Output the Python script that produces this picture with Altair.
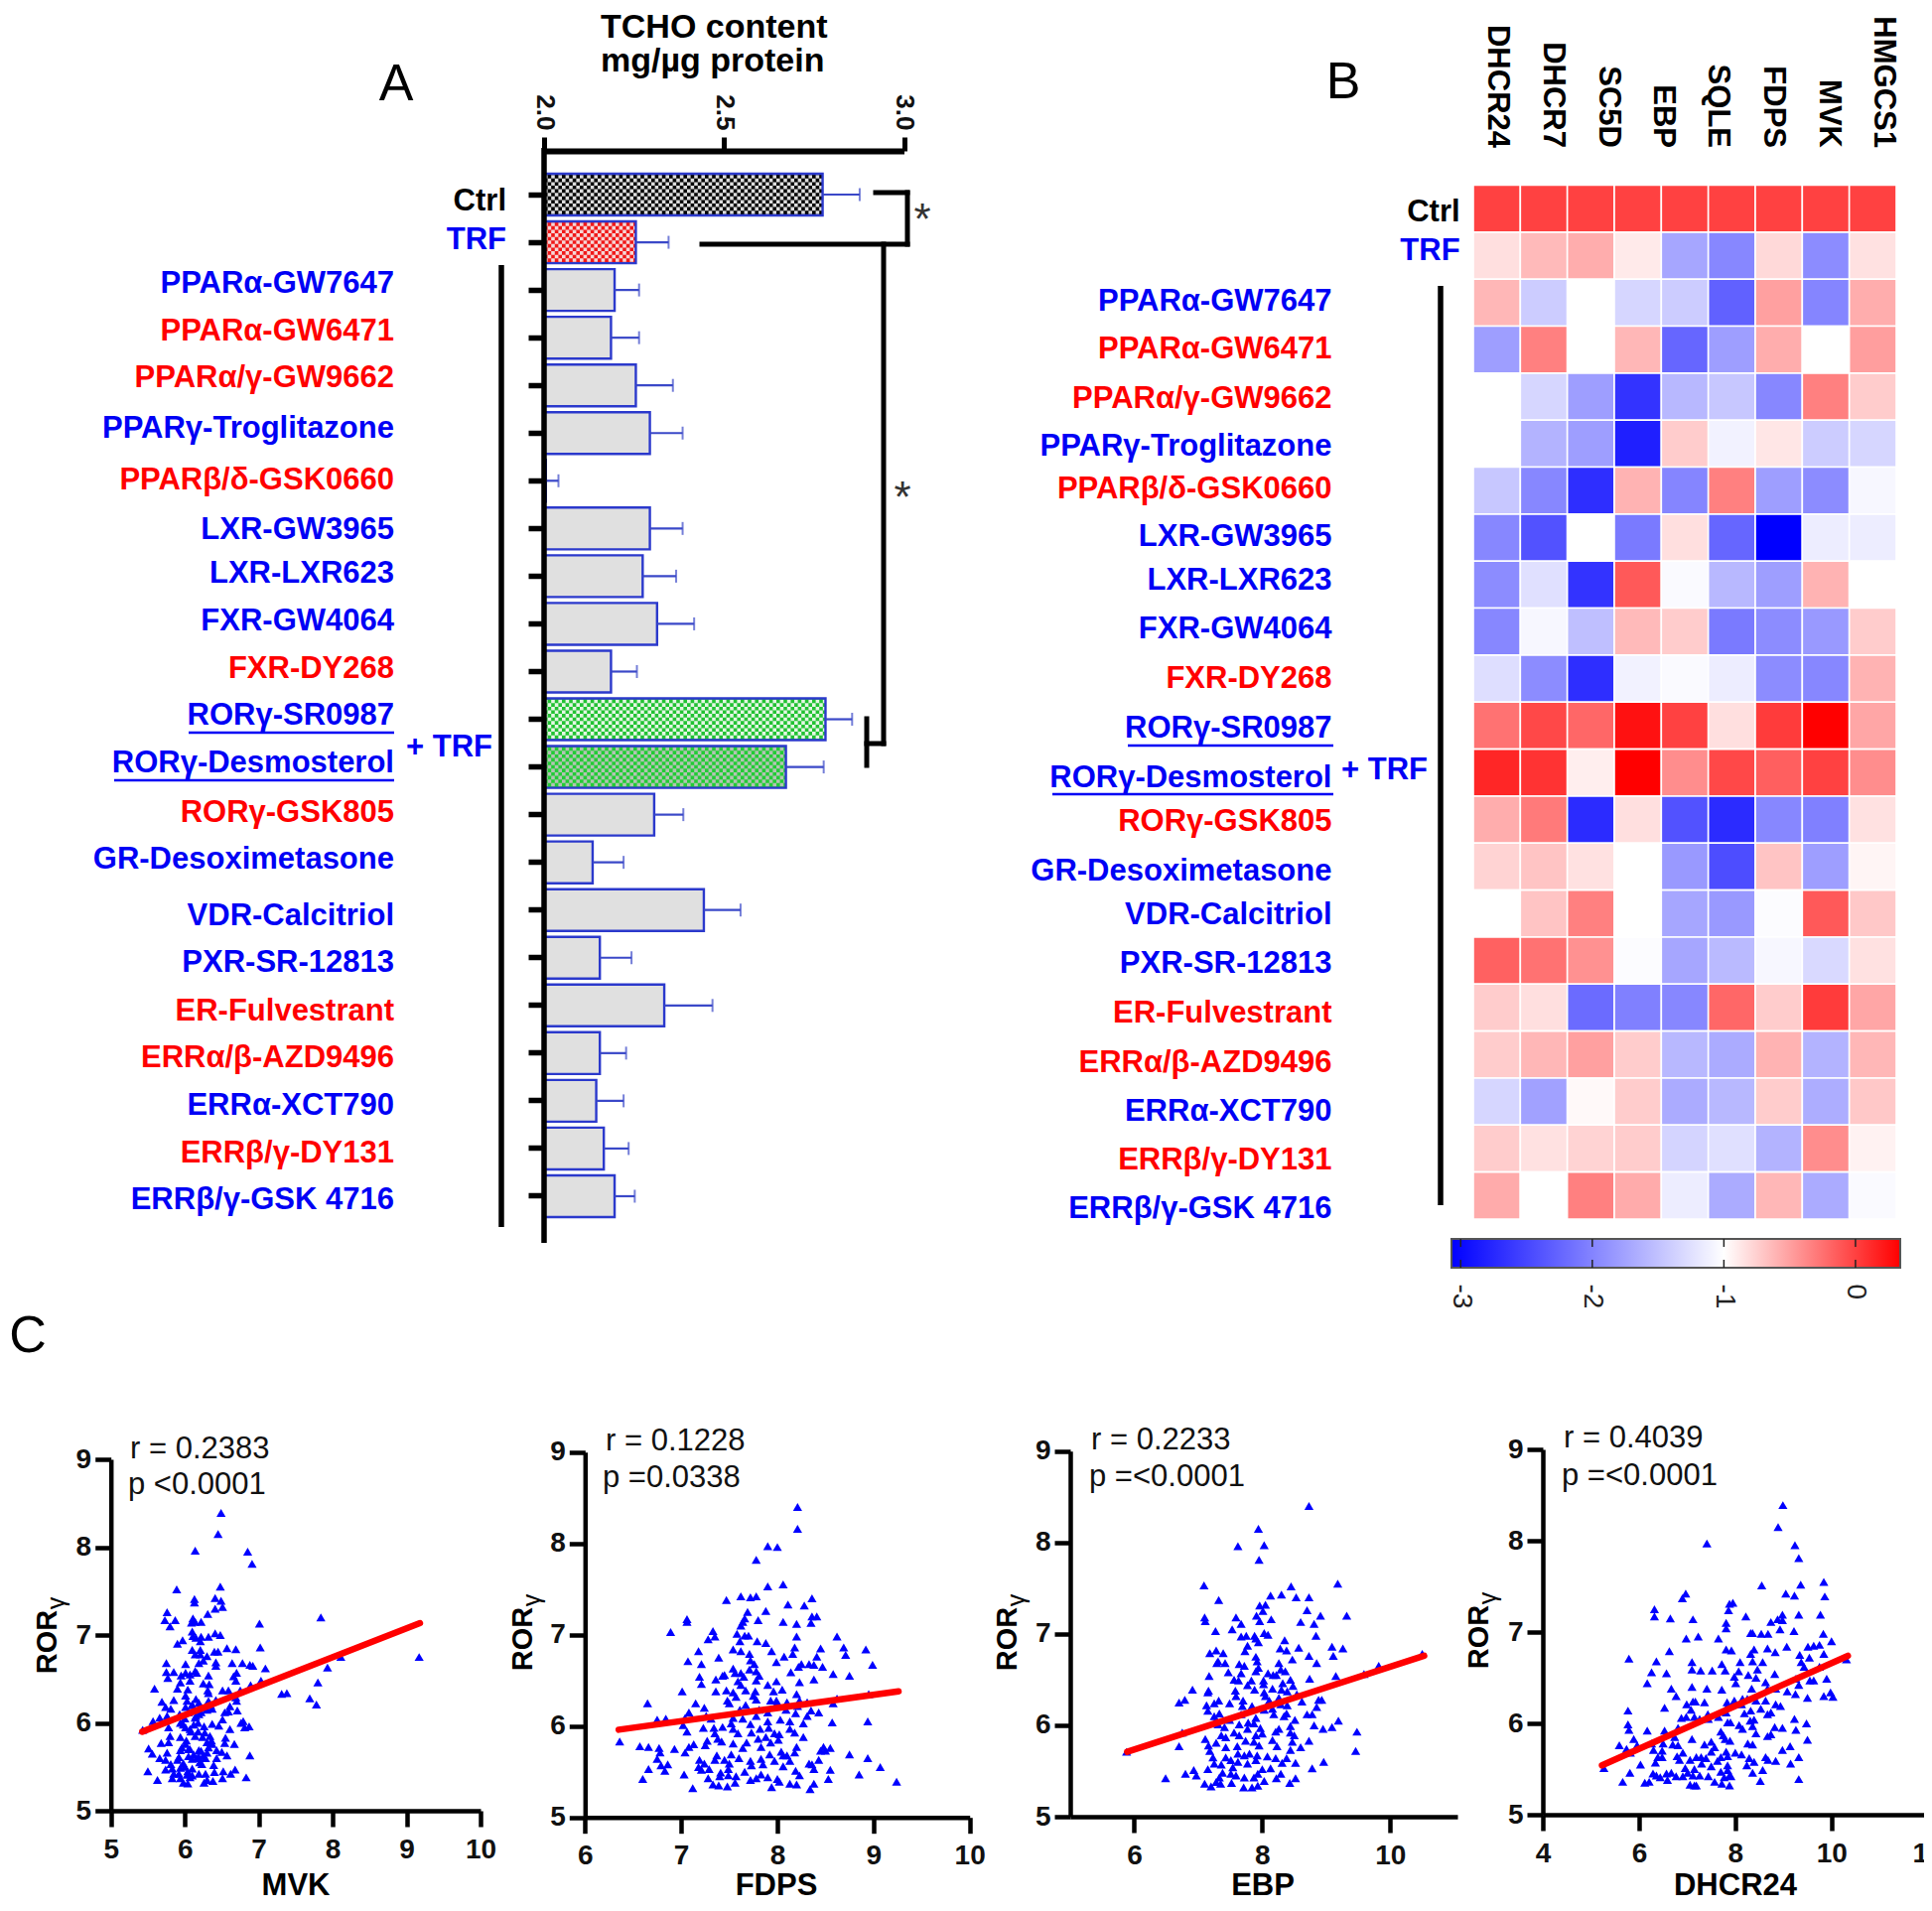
import altair as alt
import pandas as pd

W, H = 1930, 1909
FONT = "Liberation Sans"
BLUE, RED = "#0000F5", "#FF0000"

# ---------- Panel A / B row names ----------
rows = ["Ctrl", "TRF", "PPARα-GW7647", "PPARα-GW6471", "PPARα/γ-GW9662", "PPARγ-Troglitazone", "PPARβ/δ-GSK0660",
        "LXR-GW3965", "LXR-LXR623", "FXR-GW4064", "FXR-DY268", "RORγ-SR0987", "RORγ-Desmosterol", "RORγ-GSK805",
        "GR-Desoximetasone", "VDR-Calcitriol", "PXR-SR-12813", "ER-Fulvestrant", "ERRα/β-AZD9496", "ERRα-XCT790",
        "ERRβ/γ-DY131", "ERRβ/γ-GSK 4716"]
row_colors = ["#000000", BLUE, BLUE, RED, RED, BLUE, RED, BLUE, BLUE, BLUE, RED, BLUE, BLUE, RED, BLUE, BLUE, BLUE,
              RED, RED, BLUE, RED, BLUE]
tcho = [2.774, 2.255, 2.196, 2.186, 2.255, 2.294, 2.005, 2.294, 2.274, 2.314, 2.186, 2.782, 2.672, 2.306, 2.135,
        2.444, 2.155, 2.334, 2.155, 2.145, 2.166, 2.196]
tcho_hi = [2.877, 2.346, 2.264, 2.264, 2.358, 2.385, 2.04, 2.385, 2.367, 2.417, 2.258, 2.856, 2.777, 2.387, 2.221,
           2.546, 2.243, 2.468, 2.228, 2.221, 2.235, 2.252]
bar_base = {"Ctrl": "#000000", "TRF": "#F01818", "RORγ-SR0987": "#22C233", "RORγ-Desmosterol": "#22CC35"}
bar_light = {"Ctrl": "#DDDDDD", "TRF": "#F6D6D6", "RORγ-SR0987": "#E4F6E4", "RORγ-Desmosterol": "#B4C2B4"}
label_y_a = [203, 242, 286, 334, 381, 432, 484, 534, 578, 626, 674, 721, 769, 818.5, 866, 923, 970, 1018.5, 1066,
             1114, 1162, 1209]
label_y_b = [214, 253, 304, 352, 402, 450, 493, 541, 585, 634, 684, 734, 784, 827.6, 877.6, 922, 970.5, 1020.5,
             1070.5, 1119.6, 1169, 1218]

genes = ["DHCR24", "DHCR7", "SC5D", "EBP", "SQLE", "FDPS", "MVK", "HMGCS1"]
gene_x = [1508, 1564, 1620, 1674.5, 1730, 1786, 1842, 1896.5]
heat = [
    [0, 0, 0, 0, 0, 0, 0, 0, 0],
    [-0.83, -0.64, -0.57, -0.89, -1.7, -1.94, -0.8, -1.9, -0.84],
    [-0.62, -1.4, -1, -1.32, -1.4, -2.24, -0.5, -1.96, -0.57],
    [-1.76, -0.33, -1, -0.62, -2.2, -1.76, -0.57, -1, -0.49],
    [-1, -1.32, -1.76, -2.6, -1.56, -1.44, -1.94, -0.33, -0.73],
    [-1, -1.6, -1.76, -2.76, -0.73, -1.1, -0.87, -1.4, -1.32],
    [-1.44, -1.94, -2.64, -0.6, -1.96, -0.33, -1.76, -1.9, -1.06],
    [-1.94, -2.36, -1, -2.04, -0.83, -2.2, -3, -1.14, -1.14],
    [-1.9, -1.24, -2.6, -0.13, -1.04, -1.56, -1.76, -0.6, -1],
    [-1.94, -1.06, -1.5, -0.64, -0.73, -2.04, -1.9, -1.8, -0.73],
    [-1.26, -1.9, -2.64, -1.1, -1.04, -1.14, -1.9, -1.94, -0.6],
    [-0.26, -0.04, -0.2, 0.25, 0, -0.83, 0.03, 0.34, -0.53],
    [0.14, 0.07, -0.91, 0.34, -0.4, -0.04, -0.16, 0, -0.4],
    [-0.57, -0.3, -2.66, -0.83, -2.36, -2.66, -1.94, -2, -0.84],
    [-0.77, -0.69, -0.84, -1, -1.8, -2.4, -0.69, -1.76, -0.95],
    [-1, -0.69, -0.33, -1, -1.7, -1.8, -1.02, -0.13, -0.71],
    [-0.17, -0.26, -0.42, -1.02, -1.7, -1.54, -1.06, -1.3, -0.84],
    [-0.73, -0.83, -2.16, -2, -1.94, -0.2, -0.73, 0.03, -0.53],
    [-0.73, -0.62, -0.5, -0.73, -1.56, -1.66, -0.6, -1.6, -0.62],
    [-1.32, -1.74, -0.97, -0.73, -1.66, -1.56, -0.73, -1.64, -0.71],
    [-0.73, -0.84, -0.77, -0.73, -1.34, -1.24, -1.6, -0.4, -0.93],
    [-0.56, -1, -0.33, -0.56, -1.14, -1.66, -0.62, -1.66, -1.04],
]

# ---------- Panel C scatter readings (gene, RORγ) ----------
mvk_pts = [(6.49,8.39),(6.45,8.15),(6.14,7.96),(6.85,7.95),(6.91,7.81),(5.89,7.52),(6.48,7.55),(6.13,7.41),(6.13,7.37),(6.41,7.42),(6.49,7.39),(6.41,7.30),(6.51,7.32),(5.76,7.26),(5.73,7.17),(5.87,7.17),(5.80,7.10),(6.31,7.24),(6.11,7.19),(6.09,7.14),(6.14,7.15),(6.22,7.15),(7.01,7.13),(7.84,7.20),(6.10,7.04),(6.41,7.02),(6.48,7.0),(6.11,6.99),(6.15,6.97),(6.22,6.98),(6.32,6.98),(5.97,6.94),(5.90,6.90),(6.21,6.93),(7.02,6.86),(6.57,6.85),(6.69,6.84),(6.10,6.83),(6.40,6.81),(6.45,6.81),(6.21,6.83),(6.14,6.78),(6.21,6.78),(6.30,6.76),(6.25,6.71),(6.19,6.68),(6.42,6.69),(6.42,6.65),(5.75,6.68),(6.01,6.67),(6.64,6.68),(6.78,6.68),(6.88,6.66),(6.92,6.65),(7.09,6.62),(8.11,6.75),(9.17,6.75),(7.93,6.63),(7.80,6.46),(7.03,6.48),(6.89,6.43),(5.75,6.58),(5.85,6.58),(6.14,6.59),(6.16,6.57),(5.95,6.54),(6.01,6.57),(6.07,6.55),(6.32,6.54),(6.70,6.57),(6.66,6.53),(6.69,6.48),(5.77,6.51),(6.07,6.48),(5.94,6.46),(6.25,6.45),(6.33,6.44),(5.90,6.39),(6.04,6.38),(5.59,6.39),(6.31,6.37),(6.32,6.34),(6.51,6.37),(6.59,6.37),(6.75,6.37),(7.31,6.33),(7.38,6.34),(7.69,6.28),(7.78,6.21),(5.69,6.24),(5.85,6.26),(5.74,6.18),(5.81,6.16),(6.01,6.31),(6.03,6.25),(6.15,6.27),(6.19,6.23),(6.32,6.25),(6.42,6.26),(6.69,6.29),(6.70,6.25),(6.71,6.14),(6.61,6.19),(6.01,6.18),(6.10,6.21),(6.23,6.17),(6.37,6.16),(6.05,6.12),(6.19,6.10),(6.54,6.12),(6.59,6.13),(5.66,6.06),(5.76,6.08),(5.93,6.10),(5.57,6.02),(6.14,6.06),(6.51,6.04),(6.76,6.0),(6.79,6.02),(6.81,5.95),(6.87,5.96),(6.46,5.97),(6.61,5.93),(5.43,5.92),(5.94,6.0),(6.01,5.95),(5.78,5.95),(6.07,5.93),(6.26,5.96),(6.37,5.99),(5.80,5.85),(6.14,5.85),(5.94,5.84),(6.27,5.89),(6.34,5.85),(6.55,5.83),(5.68,5.77),(5.78,5.78),(6.01,5.76),(6.30,5.78),(6.37,5.76),(6.54,5.77),(6.67,5.76),(5.51,5.71),(5.56,5.65),(5.76,5.66),(5.94,5.69),(6.07,5.70),(6.19,5.69),(6.43,5.69),(6.50,5.67),(6.88,5.63),(6.57,5.63),(5.66,5.60),(5.74,5.58),(5.92,5.61),(6.10,5.59),(6.19,5.61),(6.25,5.63),(6.43,5.60),(5.81,5.53),(5.98,5.54),(6.23,5.53),(6.39,5.52),(5.83,5.48),(5.74,5.47),(5.50,5.45),(5.94,5.49),(6.10,5.48),(6.68,5.47),(6.52,5.45),(6.40,5.44),(6.62,5.42),(6.19,5.42),(6.28,5.42),(6.03,5.41),(6.83,5.38),(5.63,5.35),(5.83,5.37),(5.94,5.37),(6.07,5.38),(6.51,5.37),(6.38,5.34),(5.98,5.32),(6.04,5.31),(6.26,5.32),(6.30,5.35),(6.05,5.62),(6.12,5.64),(6.16,5.6),(6.22,5.68),(6.28,5.6),(6.3,5.66),(6.02,5.8),(6.08,5.9),(5.98,5.98),(6.0,6.05),(6.12,5.98),(6.18,5.9),(6.24,5.84),(5.96,5.72),(5.9,5.58),(6.0,5.5),(5.92,5.42),(6.04,5.45),(6.1,5.4),(6.18,6.0),(6.15,6.08),(6.22,6.12),(6.3,6.15),(6.35,6.2),(6.1,6.2),(6.05,5.7),(6.32,5.72),(6.36,5.8),(6.2,5.55),(5.85,5.42)]
fdps_pts = [(8.21,8.40),(8.21,8.16),(7.90,7.97),(8.0,7.96),(7.78,7.82),(7.90,7.53),(8.06,7.55),(7.47,7.38),(7.62,7.42),(7.72,7.41),(7.78,7.42),(8.36,7.40),(8.11,7.33),(8.28,7.32),(7.69,7.25),(7.88,7.26),(7.06,7.17),(7.06,7.14),(7.66,7.18),(7.64,7.14),(7.80,7.16),(8.06,7.14),(8.36,7.20),(8.41,7.20),(8.35,7.13),(8.20,7.12),(7.62,7.10),(6.89,7.03),(7.33,7.04),(7.35,6.98),(7.28,6.95),(7.58,7.01),(7.66,6.99),(7.70,6.99),(8.20,6.98),(8.62,6.98),(7.61,6.93),(7.79,6.93),(7.88,6.91),(8.18,6.86),(8.45,6.85),(8.69,6.86),(8.92,6.84),(7.54,6.84),(7.18,6.82),(7.62,6.82),(7.94,6.82),(8.16,6.79),(7.71,6.79),(8.71,6.78),(7.39,6.75),(8.07,6.76),(8.41,6.76),(7.72,6.72),(7.07,6.71),(7.99,6.70),(7.21,6.68),(7.76,6.68),(8.22,6.65),(8.25,6.68),(8.33,6.68),(8.38,6.67),(8.47,6.65),(8.99,6.67),(7.54,6.63),(7.71,6.62),(7.78,6.60),(8.14,6.59),(7.56,6.58),(7.62,6.58),(8.58,6.57),(8.75,6.55),(7.43,6.55),(7.45,6.56),(7.19,6.54),(7.65,6.54),(7.81,6.55),(7.36,6.51),(7.59,6.49),(7.78,6.50),(8.38,6.51),(7.99,6.49),(7.21,6.46),(7.62,6.45),(7.90,6.45),(8.23,6.48),(7.36,6.38),(7.01,6.38),(7.47,6.39),(7.54,6.37),(7.67,6.39),(7.77,6.38),(8.05,6.40),(7.96,6.38),(8.95,6.35),(7.57,6.32),(7.75,6.33),(8.20,6.35),(7.48,6.28),(7.78,6.29),(7.93,6.28),(7.99,6.28),(8.62,6.30),(6.65,6.25),(7.15,6.25),(7.50,6.25),(7.67,6.23),(8.10,6.26),(8.23,6.28),(8.31,6.26),(8.58,6.25),(7.24,6.20),(7.61,6.18),(7.81,6.18),(7.99,6.24),(8.09,6.18),(8.21,6.22),(8.35,6.17),(7.08,6.15),(7.90,6.15),(7.78,6.11),(8.19,6.14),(8.43,6.15),(7.04,6.09),(7.26,6.11),(6.75,6.07),(6.84,6.08),(7.31,6.08),(7.54,6.09),(7.64,6.08),(8.03,6.07),(8.31,6.11),(8.57,6.04),(8.94,6.05),(7.02,6.01),(7.52,6.03),(7.72,6.02),(7.90,6.05),(8.13,6.05),(8.27,6.03),(7.23,5.98),(7.34,5.98),(7.43,5.99),(7.06,5.94),(7.54,5.97),(7.82,5.97),(7.91,5.98),(8.13,5.97),(8.18,5.93),(7.59,5.92),(7.73,5.93),(7.97,5.92),(8.02,5.91),(7.35,5.92),(6.36,5.83),(7.38,5.86),(7.80,5.86),(7.88,5.88),(8.27,5.88),(8.01,5.85),(7.27,5.84),(7.42,5.83),(7.54,5.81),(7.68,5.82),(7.93,5.82),(6.57,5.78),(6.66,5.77),(6.77,5.76),(6.93,5.75),(7.13,5.80),(7.25,5.79),(7.08,5.77),(7.64,5.76),(7.83,5.77),(8.20,5.77),(8.55,5.76),(8.48,5.77),(6.78,5.71),(7.04,5.71),(8.04,5.72),(8.18,5.71),(8.45,5.73),(8.50,5.73),(7.52,5.69),(8.75,5.69),(7.37,5.68),(7.60,5.65),(7.92,5.69),(8.06,5.68),(8.10,5.68),(6.75,5.64),(7.19,5.63),(7.35,5.63),(7.45,5.63),(7.72,5.62),(7.83,5.64),(7.97,5.62),(8.43,5.63),(8.94,5.65),(7.24,5.59),(7.50,5.59),(7.73,5.57),(7.85,5.58),(8.13,5.62),(8.33,5.59),(6.79,5.57),(6.86,5.58),(7.18,5.55),(8.06,5.56),(8.36,5.58),(9.07,5.55),(6.66,5.53),(6.83,5.51),(7.21,5.52),(7.29,5.53),(7.49,5.53),(7.66,5.50),(8.38,5.53),(8.55,5.52),(8.19,5.51),(7.03,5.47),(7.41,5.49),(7.83,5.47),(8.23,5.46),(8.85,5.47),(6.60,5.42),(7.28,5.43),(7.40,5.45),(7.49,5.46),(7.57,5.45),(7.90,5.44),(7.78,5.43),(8.0,5.42),(8.53,5.42),(7.72,5.41),(8.02,5.39),(9.24,5.39),(7.33,5.36),(7.39,5.35),(7.56,5.38),(8.13,5.37),(8.20,5.36),(8.38,5.37),(7.48,5.34),(7.12,5.32),(7.94,5.33),(8.34,5.31)]
ebp_pts = [(8.73,8.40),(7.94,8.15),(7.62,7.96),(8.03,7.97),(7.95,7.81),(7.09,7.53),(8.45,7.52),(9.18,7.55),(7.32,7.37),(8.13,7.42),(8.30,7.43),(8.53,7.40),(8.73,7.40),(7.96,7.31),(8.05,7.32),(8.01,7.25),(8.70,7.26),(8.91,7.20),(9.32,7.20),(7.10,7.18),(7.11,7.14),(7.59,7.18),(7.91,7.20),(7.96,7.14),(8.14,7.16),(8.60,7.13),(8.81,7.11),(7.67,7.11),(7.27,7.03),(7.53,7.05),(8.03,7.01),(8.09,6.99),(7.67,6.97),(7.75,6.98),(7.88,6.98),(8.84,6.98),(7.90,6.95),(8.35,6.93),(7.94,6.91),(7.77,6.87),(8.28,6.84),(8.57,6.85),(9.09,6.86),(9.26,6.84),(7.28,6.82),(7.18,6.79),(7.39,6.79),(7.73,6.81),(8.38,6.82),(8.73,6.76),(9.11,6.76),(10.50,6.78),(7.90,6.75),(8.47,6.72),(7.31,6.70),(7.29,6.68),(7.42,6.68),(7.92,6.70),(8.26,6.68),(8.85,6.68),(7.64,6.67),(7.72,6.65),(7.94,6.63),(9.82,6.65),(8.29,6.61),(8.36,6.59),(7.90,6.59),(7.47,6.58),(7.67,6.57),(8.09,6.57),(8.17,6.55),(8.22,6.55),(9.59,6.56),(7.17,6.54),(9.15,6.54),(7.56,6.50),(8.74,6.51),(7.63,6.49),(7.83,6.49),(8.02,6.49),(8.44,6.50),(7.77,6.44),(8.32,6.46),(8.48,6.43),(8.02,6.45),(7.16,6.38),(7.15,6.36),(6.91,6.39),(7.58,6.38),(7.88,6.39),(8.16,6.40),(8.30,6.39),(8.39,6.37),(8.03,6.36),(7.59,6.32),(8.54,6.34),(8.05,6.32),(8.26,6.30),(6.79,6.28),(6.70,6.25),(7.32,6.27),(7.25,6.24),(7.49,6.24),(7.70,6.27),(8.11,6.27),(8.62,6.26),(8.88,6.28),(8.93,6.28),(7.13,6.22),(7.69,6.21),(7.84,6.21),(8.29,6.23),(8.39,6.22),(8.85,6.20),(7.15,6.16),(8.03,6.17),(8.16,6.18),(8.38,6.13),(8.70,6.12),(8.78,6.12),(7.25,6.10),(7.33,6.13),(7.67,6.12),(8.18,6.12),(8.34,6.10),(7.28,6.06),(7.49,6.06),(7.90,6.08),(8.51,6.06),(9.19,6.05),(7.31,6.01),(7.64,6.01),(7.78,6.03),(7.87,6.02),(8.81,6.0),(9.09,5.98),(8.95,5.96),(7.41,5.98),(7.97,5.97),(8.26,5.96),(8.44,5.99),(6.75,5.92),(9.48,5.93),(7.56,5.92),(7.77,5.96),(8.0,5.91),(8.21,5.93),(8.44,5.92),(7.36,5.89),(8.50,5.89),(7.64,5.89),(7.90,5.89),(7.11,5.85),(7.43,5.87),(7.74,5.83),(8.73,5.83),(8.16,5.84),(7.28,5.81),(7.87,5.82),(8.47,5.82),(7.16,5.78),(6.70,5.77),(7.61,5.77),(7.95,5.78),(8.23,5.77),(8.60,5.76),(7.18,5.72),(7.43,5.76),(8.44,5.73),(9.46,5.72),(5.88,5.71),(7.62,5.69),(7.80,5.69),(8.08,5.66),(7.23,5.65),(7.72,5.67),(7.92,5.67),(7.43,5.65),(8.21,5.64),(8.38,5.64),(7.51,5.62),(7.90,5.62),(7.25,5.58),(7.36,5.57),(7.62,5.60),(8.52,5.59),(8.96,5.60),(7.77,5.58),(8.31,5.59),(6.93,5.51),(7.15,5.52),(7.54,5.54),(8.0,5.52),(8.13,5.53),(8.78,5.53),(6.80,5.47),(6.97,5.45),(7.38,5.48),(7.51,5.47),(8.29,5.47),(7.59,5.45),(7.93,5.47),(6.49,5.42),(7.33,5.43),(7.87,5.43),(7.72,5.43),(8.22,5.42),(8.52,5.42),(7.10,5.36),(7.28,5.38),(7.52,5.37),(8.03,5.39),(8.43,5.37),(7.20,5.33),(7.35,5.36),(7.71,5.32),(7.84,5.32),(7.93,5.34)]
dhcr24_pts = [(8.99,8.39),(8.89,8.15),(7.41,7.97),(9.24,7.95),(9.32,7.81),(8.55,7.51),(9.36,7.52),(9.84,7.55),(6.97,7.42),(6.90,7.37),(9.05,7.42),(9.23,7.40),(9.86,7.39),(7.88,7.31),(7.95,7.32),(6.32,7.25),(6.32,7.17),(7.86,7.24),(8.22,7.17),(8.98,7.19),(9.32,7.19),(9.77,7.19),(6.65,7.15),(7.12,7.14),(7.81,7.10),(8.74,7.11),(8.88,7.14),(8.98,7.13),(7.81,7.04),(8.93,7.03),(9.22,7.01),(8.32,6.99),(8.36,6.99),(8.54,6.98),(8.68,6.98),(9.83,6.98),(6.98,6.93),(7.23,6.95),(7.65,6.93),(10.0,6.90),(8.67,6.82),(8.39,6.81),(7.81,6.81),(7.92,6.80),(9.07,6.84),(9.51,6.84),(9.63,6.85),(9.75,6.86),(6.63,6.79),(8.83,6.78),(8.32,6.76),(9.34,6.75),(9.84,6.76),(9.54,6.72),(5.79,6.71),(6.36,6.68),(7.10,6.67),(7.72,6.65),(8.10,6.67),(8.36,6.68),(8.57,6.67),(9.37,6.67),(9.43,6.62),(10.31,6.70),(9.75,6.62),(7.10,6.59),(7.28,6.58),(7.52,6.58),(7.79,6.58),(8.07,6.57),(8.46,6.59),(6.26,6.56),(6.57,6.55),(7.98,6.51),(8.27,6.53),(8.43,6.50),(8.82,6.54),(6.17,6.44),(8.01,6.44),(8.63,6.45),(9.26,6.49),(9.55,6.47),(9.63,6.47),(9.90,6.49),(9.32,6.42),(7.10,6.40),(6.67,6.38),(7.41,6.38),(7.72,6.37),(8.34,6.38),(8.84,6.38),(9.08,6.35),(8.67,6.38),(6.77,6.30),(9.25,6.32),(9.84,6.30),(9.98,6.34),(10.03,6.29),(9.50,6.28),(8.15,6.27),(8.25,6.27),(7.12,6.24),(7.36,6.23),(7.17,6.24),(7.83,6.23),(7.98,6.25),(8.43,6.25),(8.63,6.25),(6.99,6.21),(7.85,6.20),(8.13,6.21),(8.84,6.21),(8.94,6.19),(6.53,6.17),(5.77,6.14),(8.53,6.16),(7.08,6.15),(8.32,6.14),(8.19,6.11),(8.67,6.10),(8.74,6.12),(7.81,6.12),(7.43,6.10),(6.88,6.06),(6.98,6.07),(7.15,6.07),(7.26,6.05),(7.65,6.07),(7.44,6.05),(9.23,6.05),(8.31,6.03),(8.39,6.04),(7.84,6.01),(7.90,6.01),(9.48,6.0),(5.77,5.99),(8.08,5.98),(5.79,5.93),(6.17,5.92),(6.81,5.95),(8.36,5.97),(8.82,5.96),(8.98,5.95),(9.26,5.93),(6.53,5.92),(7.70,5.91),(8.15,5.94),(8.43,5.89),(7.75,5.87),(8.74,5.88),(8.67,5.86),(5.89,5.83),(6.74,5.85),(7.10,5.83),(7.79,5.83),(7.89,5.81),(9.50,5.82),(5.59,5.76),(5.96,5.76),(6.26,5.78),(6.50,5.78),(6.70,5.77),(7.36,5.77),(7.50,5.80),(8.26,5.78),(8.36,5.77),(9.14,5.75),(5.74,5.72),(6.30,5.71),(6.81,5.76),(7.57,5.74),(8.98,5.71),(5.82,5.68),(6.48,5.70),(6.91,5.68),(7.50,5.69),(7.81,5.69),(8.0,5.68),(8.13,5.66),(6.39,5.63),(6.79,5.64),(6.48,5.63),(9.32,5.63),(7.06,5.60),(7.19,5.63),(7.29,5.63),(7.39,5.62),(7.70,5.63),(7.84,5.64),(8.29,5.62),(8.63,5.63),(8.68,5.60),(8.84,5.59),(6.03,5.55),(6.34,5.57),(6.84,5.60),(8.39,5.58),(9.15,5.56),(7.30,5.56),(7.63,5.59),(8.24,5.54),(5.27,5.51),(6.96,5.51),(7.50,5.53),(7.84,5.54),(7.15,5.50),(8.57,5.49),(5.81,5.46),(6.29,5.45),(6.57,5.45),(6.67,5.46),(7.01,5.46),(7.70,5.47),(7.84,5.49),(8.36,5.46),(6.36,5.43),(6.44,5.41),(6.77,5.42),(6.91,5.42),(7.12,5.43),(7.26,5.43),(7.44,5.42),(7.88,5.43),(7.77,5.41),(7.91,5.42),(5.66,5.36),(6.12,5.35),(6.21,5.36),(6.59,5.38),(7.57,5.36),(7.72,5.34),(8.52,5.37),(9.32,5.39),(7.06,5.33),(7.15,5.32),(7.19,5.32),(7.88,5.32)]

fits = {"MVK": [(5.425, 5.90), (9.18, 7.135)], "FDPS": [(6.35, 5.96), (9.26, 6.38)],
        "EBP": [(5.89, 5.71), (10.53, 6.76)], "DHCR24": [(5.23, 5.54), (10.34, 6.74)]}


# ---------- helpers ----------
def sc(domain, a, b, **kw):
    """Scale whose range is given in page pixels (the chart starts 8 px in)."""
    return alt.Scale(domain=domain, range=[a - 8, b - 8], **kw)


FX = alt.X("x:Q", scale=sc([0, 1946], 0, 1946), axis=None)
FY = alt.Y("y:Q", scale=sc([0, 1925], 0, 1925), axis=None)
FX2, FY2 = alt.X2("x2:Q"), alt.Y2("y2:Q")
layers = []


def text(items, size, weight="normal", align="left", color="#000000", angle=0, font=FONT):
    df = pd.DataFrame([{"x": i[0], "y": i[1], "t": i[2], "c": i[3] if len(i) > 3 else color} for i in items])
    m = alt.Chart(df).mark_text(font=font, fontSize=size, fontWeight=weight, align=align, baseline="middle", angle=angle)
    layers.append(m.encode(x=FX, y=FY, text="t:N", color=alt.Color("c:N", scale=None)))


def lines(items, width, color="#000000", cap="square"):
    df = pd.DataFrame([{"x": a, "y": b, "x2": c, "y2": d} for a, b, c, d in items])
    layers.append(alt.Chart(df).mark_rule(color=color, strokeWidth=width, strokeCap=cap).encode(x=FX, y=FY, x2=FX2, y2=FY2))


# ---------- Panel A ----------
bars = pd.DataFrame({"n": rows, "v": tcho, "hi": tcho_hi, "b": [2.0] * len(rows),
                     "c": [bar_base.get(r, "#E0E0E0") for r in rows]})
XA = lambda axis=None: alt.X("v:Q", scale=sc([2, 3], 548, 910.5, zero=False, nice=False), axis=axis, title=None)
BAND = dict(domain=rows, range=[172 - 8, 1229 - 8], paddingInner=0.125, paddingOuter=0.0625)
YA = lambda axis=None: alt.Y("n:N", scale=alt.Scale(**BAND), axis=axis, title=None, sort=None)
ax_top = alt.Axis(orient="top", offset=-(152 - 8), values=[2, 2.5, 3], format=".1f", labelAngle=90, labelAlign="right",
                  labelBaseline="middle", labelFontSize=26, labelFontWeight="bold", labelFont=FONT, labelPadding=7,
                  tickSize=14, tickWidth=5, tickColor="black", domainWidth=6, domainColor="black", grid=False,
                  labelColor="#111111", labelOverlap=False)
ax_left = alt.Axis(orient="left", offset=-(548 - 8), labels=False, domain=False, tickSize=16, tickWidth=5.5,
                   tickColor="black", grid=False)
layers.append(alt.Chart(bars).mark_bar().encode(x=XA(ax_top), x2=alt.X2("b:Q"), y=YA(ax_left),
                                                color=alt.Color("c:N", scale=None)))
# woven fill of the four highlighted bars: rows of dashes laid along each bar
CELL = 3.6
pat = []
for r in bar_base:
    i = rows.index(r)
    for k in range(11):
        pat.append({"r": i + (k - 5) * CELL / 48.05, "k": k % 2, "v": 2.0, "e": tcho[i], "c": bar_light[r]})
pat = pd.DataFrame(pat)
for k in (0, 1):
    layers.append(
        alt.Chart(pat[pat.k == k]).mark_rule(strokeWidth=CELL, strokeDash=[CELL, CELL], strokeDashOffset=k * CELL).encode(
            x=XA(), x2=alt.X2("e:Q"),
            y=alt.Y("r:Q", scale=sc([-0.5, 21.5], 172, 1229, zero=False, nice=False), axis=None, title=None),
            color=alt.Color("c:N", scale=None)))
layers.append(alt.Chart(bars).mark_bar(fillOpacity=0, stroke="#2B39CC", strokeWidth=2.4).encode(
    x=XA(), x2=alt.X2("b:Q"), y=YA()))
bars_err = bars.assign(v=bars["hi"], e=bars["v"])
layers.append(alt.Chart(bars_err).mark_rule(color="#3A48C8", strokeWidth=2.2).encode(x=XA(), x2=alt.X2("e:Q"), y=YA()))
layers.append(alt.Chart(bars_err).mark_tick(color="#3A48C8", thickness=2, size=13, orient="vertical").encode(x=XA(), y=YA()))

lines([(548, 149, 548, 1252)], 5.5, cap="butt")
lines([(505, 267, 505, 1236), (1451, 288, 1451, 1214)], 5.5, cap="butt")
lines([(882, 194, 914, 194), (914, 194, 914, 246), (914, 246, 707, 246), (890, 246, 890, 749), (890, 749, 873, 749),
       (873, 724, 873, 771)], 5)
lines([(190, 738, 397, 738), (115, 786, 397, 786), (1136, 751, 1343, 751), (1060, 800, 1343, 800)], 2.4, BLUE, cap="butt")

text([(397, y, n, c) for n, y, c in zip(rows[2:], label_y_a[2:], row_colors[2:])] +
     [(510, label_y_a[0], rows[0], row_colors[0]), (510, label_y_a[1], rows[1], row_colors[1])] +
     [(1341.5, y, n, c) for n, y, c in zip(rows[2:], label_y_b[2:], row_colors[2:])] +
     [(1470.6, label_y_b[0], rows[0], row_colors[0]), (1470.6, label_y_b[1], rows[1], row_colors[1])],
     31, "bold", "right")
text([(409, 753, "+ TRF", BLUE), (1351, 776, "+ TRF", BLUE)], 31, "bold")
text([(605, 28, "TCHO content"), (605, 62, "mg/µg protein")], 34, "bold")
text([(399, 85, "A"), (1353, 83, "B"), (28, 1346, "C")], 52, align="center")
text([(929, 223, "*"), (909, 503, "*")], 44, align="center", color="#333333")
text([(x, 149, g) for x, g in zip(gene_x, genes)], 31, "bold", "right", angle=90)

# ---------- Panel B ----------
heat_long = pd.DataFrame([{"n": r, "g": j, "z": v} for r, row in zip(rows, heat) for j, v in enumerate(row)])
layers.append(alt.Chart(heat_long).mark_rect(stroke="white", strokeWidth=1.6).encode(
    x=alt.X("g:O", scale=alt.Scale(domain=list(range(9)), range=[1484 - 8, 1910 - 8], paddingInner=0, paddingOuter=0), axis=None),
    y=alt.Y("n:N", scale=alt.Scale(domain=rows, range=[186.5 - 8, 1228 - 8], paddingInner=0, paddingOuter=0), axis=None, sort=None),
    color=alt.Color("z:Q", scale=alt.Scale(domain=[-3, -1, 0.34], range=["#0000FF", "#FFFFFF", "#FF0000"], interpolate="rgb"),
                    legend=None)))

# colour bar
CB = [-3.07, 0.34]
XCB = lambda axis=None: alt.X("v:Q", scale=sc(CB, 1462, 1914, zero=False, nice=False), axis=axis, title=None)
ax_cb = alt.Axis(orient="bottom", offset=(1277 - 8) - H, values=[-3, -2, -1, 0], labelExpr="'' + datum.value", labelAngle=90,
                 labelAlign="left", labelBaseline="middle", labelFontSize=28, labelFont=FONT, labelPadding=16, ticks=False,
                 domain=False, grid=False, labelColor="#222222", labelOverlap=False)
grad = alt.LinearGradient(gradient="linear", x1=0, x2=1, y1=0, y2=0,
                          stops=[alt.GradientStop(color="#0000FF", offset=0),
                                 alt.GradientStop(color="#FFFFFF", offset=(CB[0] * -1 - 1) / (CB[1] - CB[0])),
                                 alt.GradientStop(color="#FF0000", offset=1)])
cb = pd.DataFrame({"v": [CB[0]], "e": [CB[1]], "y": [1248], "y2": [1277]})
layers.append(alt.Chart(cb).mark_rect(color=grad, stroke="#555555", strokeWidth=2).encode(x=XCB(ax_cb), x2=alt.X2("e:Q"), y=FY, y2=FY2))
for y0, y1 in ((1248, 1256), (1269, 1277)):
    tk = pd.DataFrame({"v": [-3, -2, -1, 0], "y": [y0] * 4, "y2": [y1] * 4})
    layers.append(alt.Chart(tk).mark_rule(color="#222222", strokeWidth=1.5).encode(x=XCB(), y=FY, y2=FY2))

# ---------- Panel C ----------
panels = [
    ("MVK", mvk_pts, [5, 10], (111.7, 484), (1824, 1470), [5, 6, 7, 8, 9, 10], (298, 1900), 48, 1648,
     [(131, 1460, "r = 0.2383"), (129, 1496, "p <0.0001")]),
    ("FDPS", fdps_pts, [6, 10], (589.3, 976.7), (1830.7, 1462.7), [6, 7, 8, 9, 10], (782, 1900), 527, 1645,
     [(610, 1452, "r = 0.1228"), (607, 1489, "p =0.0338")]),
    ("EBP", ebp_pts, [5, 11.05], (1078, 1468), (1830, 1461.7), [6, 8, 10], (1272, 1900), 1015, 1645,
     [(1099, 1451, "r = 0.2233"), (1097, 1488, "p =<0.0001")]),
    ("DHCR24", dhcr24_pts, [4, 12], (1554, 1941.7), (1828, 1460), [4, 6, 8, 10, 12], (1748, 1900), 1490, 1643,
     [(1575, 1449, "r = 0.4039"), (1573, 1487, "p =<0.0001")]),
]
for name, pts, dom, xr, yr, xt, tpos, rx, ry, notes in panels:
    df = pd.DataFrame(pts, columns=["a", "b"])
    ax_x = alt.Axis(orient="bottom", offset=(yr[0] - 8) - H, values=xt, format="d", labelFontSize=28, labelFontWeight="bold",
                    labelFont=FONT, labelColor="#111111", labelPadding=9, tickSize=16, tickWidth=4.5, tickColor="black",
                    domainWidth=4.5, domainColor="black", grid=False, labelOverlap=False, labelFlush=False)
    ax_y = alt.Axis(orient="left", offset=-(xr[0] - 8), values=[5, 6, 7, 8, 9], format="d", labelFontSize=28,
                    labelFontWeight="bold", labelFont=FONT, labelColor="#111111", labelPadding=4, tickSize=16,
                    tickWidth=4.5, tickColor="black", domainWidth=4.5, domainColor="black", grid=False, labelOverlap=False,
                    labelFlush=False)
    xs = sc(dom, xr[0], xr[1], zero=False, nice=False)
    ys = sc([5, 9], yr[0], yr[1], zero=False, nice=False)
    layers.append(alt.Chart(df).mark_point(shape="triangle-up", filled=True, size=85, color="#0000FF", opacity=1).encode(
        x=alt.X("a:Q", scale=xs, axis=ax_x, title=None), y=alt.Y("b:Q", scale=ys, axis=ax_y, title=None)))
    fit = pd.DataFrame(fits[name], columns=["a", "b"])
    layers.append(alt.Chart(fit).mark_line(color="#FF0000", strokeWidth=6.5, strokeCap="round").encode(
        x=alt.X("a:Q", scale=xs, axis=None), y=alt.Y("b:Q", scale=ys, axis=None)))
    text([(tpos[0], tpos[1], name)], 31, "bold", "center")
    text(notes, 31, color="#111111")
    text([(rx, ry + 6, "ROR")], 29, "bold", "center", angle=270)
    text([(rx + 9, ry - 33, "γ")], 25, "normal", "center", angle=270)

chart = alt.layer(*layers).properties(
    width=W, height=H, padding=0, autosize=alt.AutoSizeParams(type="none")
).resolve_scale(x="independent", y="independent", color="independent").configure_view(stroke=None)

chart.save("out.html", embed_options={"renderer": "svg", "actions": False})
